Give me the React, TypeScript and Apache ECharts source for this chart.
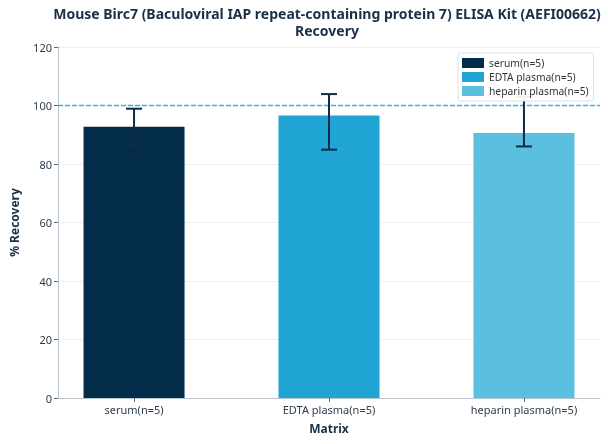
import React, { useEffect, useRef } from "react";
import * as echarts from "echarts";

const categories = ["serum(n=5)", "EDTA plasma(n=5)", "heparin plasma(n=5)"];
const recovery = [92.7, 96.6, 90.6];
const errLow = [86.5, 84.9, 86.0];
const errHigh = [98.9, 103.9, 103.0];
const colors = ["#032b4a", "#1fa4d3", "#5bbfdf"];
const yTicks = { min: 0, max: 120, interval: 20 };
const xRange = { min: -0.39, max: 2.39 };
const refLine = [100];
const titleLines = ["Mouse Birc7 (Baculoviral IAP repeat-containing protein 7) ELISA Kit (AEFI00662)", "Recovery"];

export default function App() {
  const ref = useRef<HTMLDivElement>(null);
  useEffect(() => {
    if (!ref.current) return;
    const chart = echarts.init(ref.current, null, { renderer: "svg" });
    const font = "Noto Sans";
    const series: any[] = categories.map((name, i) => ({
      type: "bar",
      name,
      barWidth: 101,
      barGap: "-100%",
      data: [[i, recovery[i]]],
      itemStyle: { color: colors[i] },
      z: 2,
    }));
    series.push({
      type: "line",
      name: "refline",
      z: 2.5,
      silent: true,
      symbol: "none",
      data: [[xRange.min, refLine[0]], [xRange.max, refLine[0]]],
      lineStyle: { color: "#38b0e3", width: 1.4, type: [5, 2] },
    });
    series.push({
      type: "custom",
      name: "err",
      z: 3,
      silent: true,
      data: categories.map((_, i) => [i, errLow[i], errHigh[i]]),
      renderItem: (params: any, api: any) => {
        const x = api.value(0);
        const hi = api.coord([x, api.value(2)]);
        const lo = api.coord([x, api.value(1)]);
        const hw = 8;
        const style = { stroke: "#0f2b48", lineWidth: 2, fill: "none" };
        return {
          type: "group",
          children: [
            { type: "line", shape: { x1: hi[0], y1: hi[1], x2: lo[0], y2: lo[1] }, style },
            { type: "line", shape: { x1: hi[0] - hw, y1: hi[1], x2: hi[0] + hw, y2: hi[1] }, style },
            { type: "line", shape: { x1: lo[0] - hw, y1: lo[1], x2: lo[0] + hw, y2: lo[1] }, style },
          ],
        };
      },
    });
    const titleStyle = { fontFamily: font, fontSize: 14, fontWeight: "bold", color: "#1b3048", lineHeight: 15 };
    chart.setOption({
      animation: false,
      textStyle: { fontFamily: font },
      title: titleLines.map((t, i) => ({
        text: t,
        left: 327,
        textAlign: "center",
        top: 6 + i * 17,
        padding: 0,
        textStyle: titleStyle,
      })),
      legend: {
        data: categories,
        orient: "vertical",
        left: 458,
        top: 53,
        itemWidth: 22,
        itemHeight: 10,
        itemGap: 4,
        padding: [5, 5, 5, 4],
        icon: "rect",
        backgroundColor: "rgba(255,255,255,0.92)",
        borderColor: "#d9e0e6",
        borderWidth: 1,
        borderRadius: 2,
        textStyle: { fontFamily: font, fontSize: 10.3, color: "#333" },
        z: 10,
      },
      grid: { left: 53, right: 8, top: 47, bottom: 46 },
      xAxis: {
        type: "value",
        min: xRange.min,
        max: xRange.max,
        name: "Matrix",
        nameLocation: "middle",
        nameGap: 24,
        nameTextStyle: { fontFamily: font, fontSize: 12, fontWeight: "bold", color: "#1b3048" },
        axisLine: { show: true, onZero: false, lineStyle: { color: "#b8c4ce" } },
        axisTick: { show: true, customValues: [0, 1, 2], length: 4, lineStyle: { color: "#5a6b7b" } },
        axisLabel: {
          customValues: [0, 1, 2],
          formatter: (v: number) => categories[Math.round(v)] ?? "",
          fontFamily: font,
          fontSize: 11,
          color: "#2b3d4f",
          margin: 6,
        },
        splitLine: { show: false },
      },
      yAxis: {
        type: "value",
        min: yTicks.min,
        max: yTicks.max,
        interval: yTicks.interval,
        name: "% Recovery",
        nameLocation: "middle",
        nameGap: 38,
        nameTextStyle: { fontFamily: font, fontSize: 12, fontWeight: "bold", color: "#1b3048" },
        axisLine: { show: true, onZero: false, lineStyle: { color: "#b8c4ce" } },
        axisTick: { show: true, length: 4, lineStyle: { color: "#5a6b7b" } },
        axisLabel: { fontFamily: font, fontSize: 11, color: "#2b3d4f", margin: 6 },
        splitLine: { show: true, lineStyle: { color: "#eaeff3" } },
      },
      series,
    });
    return () => chart.dispose();
  }, []);
  return <div ref={ref} style={{ position: "fixed", left: 0, top: 0, width: 608, height: 444 }} />;
}
